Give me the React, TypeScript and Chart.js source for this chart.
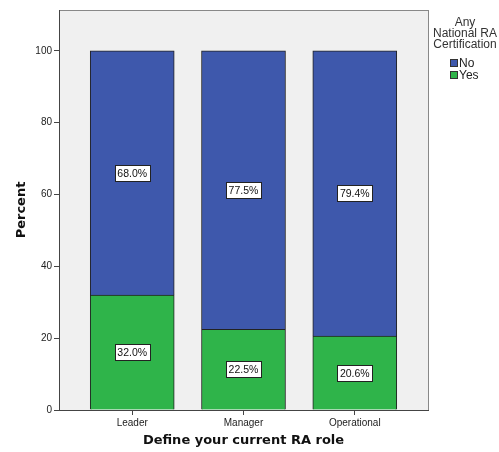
import React, { useEffect, useRef } from "react";
import { Chart, registerables } from "chart.js";

Chart.register(...registerables);

const categories = ["Leader", "Manager", "Operational"];
const yesValues = [32.0, 22.5, 20.6];
const noValues = [68.0, 77.5, 79.4];
const yTicks = [0, 20, 40, 60, 80, 100];
const legendTitle = ["Any", "National RA", "Certification"];
const seriesNames = ["No", "Yes"];
const xTitle = "Define your current RA role";
const yTitle = "Percent";

const BLUE = "#3E58AC";
const GREEN = "#2FB44A";

const bgPlugin = {
  id: "bgPlugin",
  beforeDraw(chart: any) {
    const { ctx, chartArea: a } = chart;
    ctx.save();
    ctx.fillStyle = "#F0F0F0";
    ctx.fillRect(a.left, a.top, a.right - a.left, a.bottom - a.top);
    ctx.strokeStyle = "#888";
    ctx.lineWidth = 1;
    ctx.strokeRect(Math.round(a.left) + 0.5, Math.round(a.top) + 0.5, Math.round(a.right - a.left), Math.round(a.bottom - a.top));
    ctx.restore();
  },
  afterDraw(chart: any) {
    const { ctx } = chart;
    ctx.save();
    // value labels
    ctx.font = "10.5px 'Liberation Sans', Arial, sans-serif";
    ctx.textAlign = "center";
    ctx.textBaseline = "middle";
    chart.data.datasets.forEach((ds: any, di: number) => {
      const meta = chart.getDatasetMeta(di);
      meta.data.forEach((bar: any, i: number) => {
        const v = ds.data[i].y;
        const txt = v.toFixed(1) + "%";
        const cx = bar.x;
        const cy = (bar.y + bar.base) / 2;
        const w = ctx.measureText(txt).width + 5;
        const h = 16;
        const x0 = Math.round(cx - w / 2) + 0.5;
        const y0 = Math.round(cy - h / 2) + 0.5;
        ctx.fillStyle = "#fff";
        ctx.fillRect(x0, y0, Math.round(w), h);
        ctx.strokeStyle = "#222";
        ctx.lineWidth = 1;
        ctx.strokeRect(x0, y0, Math.round(w), h);
        ctx.fillStyle = "#111";
        ctx.fillText(txt, cx, cy + 1);
      });
    });
    // legend
    ctx.font = "12px 'Liberation Sans', Arial, sans-serif";
    ctx.fillStyle = "#333";
    ctx.textAlign = "center";
    legendTitle.forEach((t, i) => ctx.fillText(t, 465, 23 + i * 11));
    ctx.textAlign = "left";
    const colors = [BLUE, GREEN];
    seriesNames.forEach((n, i) => {
      const y = 59 + i * 12;
      ctx.fillStyle = colors[i];
      ctx.fillRect(450.5, y + 0.5, 7, 7);
      ctx.strokeStyle = "#333";
      ctx.strokeRect(450.5, y + 0.5, 7, 7);
      ctx.fillStyle = "#222";
      ctx.fillText(n, 459, y + 4.5);
    });
    ctx.restore();
  },
};

export default function App() {
  const ref = useRef<HTMLCanvasElement>(null);
  useEffect(() => {
    if (!ref.current) return;
    const chart = new Chart(ref.current, {
      type: "bar",
      data: {
        datasets: [
          {
            label: seriesNames[1],
            data: yesValues.map((v, i) => ({ x: i, y: v })),
            backgroundColor: GREEN,
            borderColor: "#222",
            borderWidth: 1,
            barThickness: 84,
          },
          {
            label: seriesNames[0],
            data: noValues.map((v, i) => ({ x: i, y: v })),
            backgroundColor: BLUE,
            borderColor: "#222",
            borderWidth: 1,
            barThickness: 84,
          },
        ],
      },
      options: {
        animation: false,
        responsive: false,
        maintainAspectRatio: false,
        layout: { padding: { top: 10, right: 71, left: 0, bottom: 0 } },
        plugins: { legend: { display: false }, tooltip: { enabled: false } },
        scales: {
          x: {
            type: "linear",
            stacked: true,
            offset: false,
            min: -0.658,
            max: 2.658,
            afterBuildTicks: (s: any) => {
              s.ticks = categories.map((_, i) => ({ value: i }));
            },
            afterFit: (s: any) => {
              s.height = 42;
            },
            ticks: {
              callback: (v: any) => categories[v] ?? "",
              color: "#222",
              font: { size: 10, family: "'Liberation Sans', Arial, sans-serif" },
              padding: 2,
              maxRotation: 0,
              autoSkip: false,
            },
            grid: { offset: false, drawOnChartArea: false, drawTicks: true, tickLength: 5, color: "#444" },
            border: { display: true, color: "#444" },
            title: {
              display: true,
              text: xTitle,
              color: "#111",
              font: { size: 13, weight: "bold", family: "'DejaVu Sans', Verdana, sans-serif" },
              padding: { top: 8 },
            },
          },
          y: {
            type: "linear",
            stacked: true,
            min: 0,
            max: 111.4,
            afterBuildTicks: (s: any) => {
              s.ticks = yTicks.map((v) => ({ value: v }));
            },
            afterFit: (s: any) => {
              s.width = 59;
            },
            ticks: {
              color: "#222",
              font: { size: 10, family: "'Liberation Sans', Arial, sans-serif" },
              padding: 2,
            },
            grid: { drawOnChartArea: false, drawTicks: true, tickLength: 5, color: "#444" },
            border: { display: true, color: "#444" },
            title: {
              display: true,
              text: yTitle,
              color: "#111",
              font: { size: 13, weight: "bold", family: "'DejaVu Sans', Verdana, sans-serif" },
              padding: { top: 14, bottom: 4 },
            },
          },
        },
      },
      plugins: [bgPlugin],
    } as any);
    return () => chart.destroy();
  }, []);
  return (
    <div style={{ position: "fixed", left: 0, top: 0, width: 499, height: 452, background: "#fff" }}>
      <canvas ref={ref} width={499} height={452} style={{ width: 499, height: 452 }} />
    </div>
  );
}
